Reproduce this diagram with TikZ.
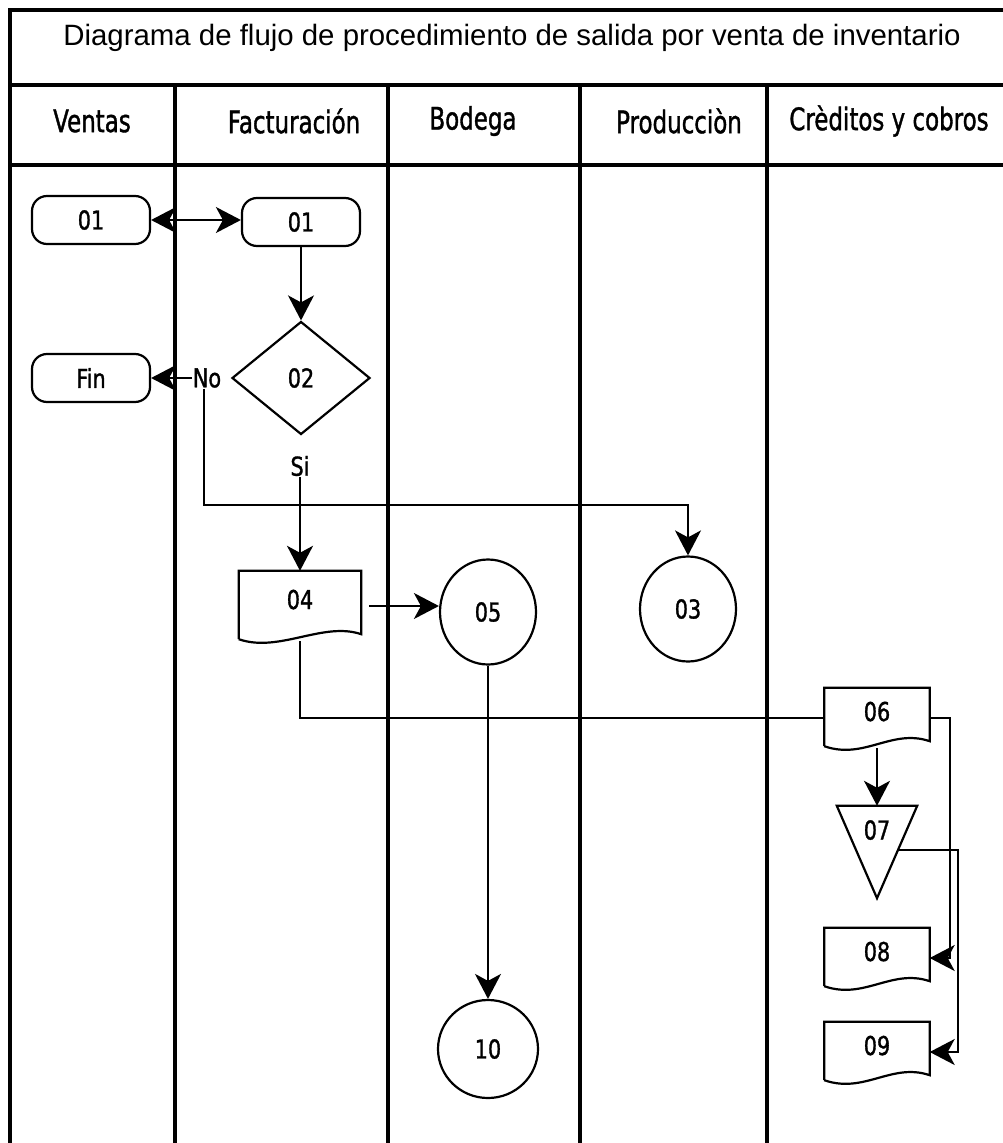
\documentclass[tikz,border=0pt]{standalone}
\usepackage{fontspec}
\setmainfont{Liberation Sans}
\newfontfamily\lanefont[FakeStretch=0.74,FakeBold=1.2]{DejaVu Sans}
\newfontfamily\numfont[FakeStretch=0.8,FakeBold=1.2]{DejaVu Sans}
\usetikzlibrary{shapes.geometric,arrows.meta,calc}
\newcommand\docoutline[1]{%
  \draw[outl] ([yshift=2pt]#1.south west) -- (#1.north west) -- (#1.north east) -- ([yshift=7pt]#1.south east)
    .. controls ([xshift=-38pt,yshift=20pt]#1.south east) and ([xshift=40pt,yshift=-12pt]#1.south west) .. ([yshift=2pt]#1.south west);}
\begin{document}
\begin{tikzpicture}[x=1pt,y=-1pt,
  frame/.style={line width=3.4pt},
  outl/.style={draw, line width=2.2pt},
  conn/.style={line width=2pt},
  >={Stealth[length=25pt,width=26pt,inset=7pt]},
  arr/.style={conn,->},
  dbl/.style={conn,<->},
  lanetxt/.style={font=\lanefont\fontsize{31}{34}\selectfont},
  num/.style={font=\numfont\fontsize{26}{30}\selectfont},
  term/.style={outl, num, rounded corners=15pt, minimum width=118pt, minimum height=48pt, inner sep=0pt},
  dec/.style={outl, num, diamond, minimum width=138pt, minimum height=113pt, inner sep=0pt},
  circ/.style={outl, num, ellipse, minimum width=96pt, minimum height=105pt, inner sep=0pt},
  docbox/.style={num, minimum width=105pt, minimum height=60pt, inner sep=0pt, text height=15pt, text depth=9pt},
  lbl/.style={num, inner sep=1pt}
]
\useasboundingbox (0,0) rectangle (1003,1143);
% frame and lanes
\draw[frame] (10,1143) -- (10,10) -- (1003,10);
\draw[frame] (10,85) -- (1003,85);
\draw[frame] (10,165) -- (1003,165);
\foreach \x in {175,388,580,767} \draw[frame] (\x,85) -- (\x,1143);
% texts of header
\node[font=\fontsize{29.4}{33}\selectfont] (title) at (512,38) {Diagrama de flujo de procedimiento de salida por venta de inventario};
\node[lanetxt] (hV) at (92,121) {Ventas};
\node[lanetxt] (hF) at (294,121) {Facturación};
\node[lanetxt] (hB) at (473,121) {Bodega};
\node[lanetxt] (hP) at (679,121) {Producciòn};
\node[lanetxt] (hC) at (889,121) {Crèditos y cobros};
% nodes
\node[term] (v01) at (91,220) {01};
\node[term] (f01) at (301,222) {01};
\node[term] (fin) at (91,378) {Fin};
\node[dec] (d02) at (301,378) {02};
\node[lbl] (no) at (207,378) {No};
\node[lbl] (si) at (300,466) {Si};
\node[docbox, minimum width=122pt, minimum height=70pt] (d04) at (300,606) {04};
\docoutline{d04}
\node[circ] (c05) at (488,612) {05};
\node[circ] (c03) at (688,609) {03};
\node[docbox] (d06) at (877,718) {06};
\docoutline{d06}
\node[num, minimum width=80pt, minimum height=92pt, inner sep=0pt, text height=15pt, text depth=40pt] (t07) at (877,852) {07};
\draw[outl] (t07.north west) -- (t07.north east) -- (t07.south) -- cycle;
\node[docbox] (d08) at (877,958) {08};
\docoutline{d08}
\node[docbox] (d09) at (877,1052) {09};
\docoutline{d09}
\node[circ, minimum width=100pt, minimum height=98pt] (c10) at (488,1049) {10};
% connectors
\coordinate (jn) at (204,505);
\coordinate (t07r) at ($(t07.north east)!0.48!(t07.south)$);
\draw[dbl] (v01.east) -- (v01.east -| f01.west);
\draw[arr] (f01.south) -- (d02.north);
\draw[arr] (no.west) -- (fin.east);
\draw[arr] (jn |- no.south) -- (jn) -| (c03.north);
\draw[arr] (si.south) -- (si.south |- d04.north);
\draw[arr] ([xshift=8pt]d04.east) -- (c05.west |- d04.east);
\draw[conn] (d04.south) |- (d06.west);
\draw[arr] (d06.south) -- (t07.north);
\draw[arr] (d06.east) -- ++(20pt,0) |- (d08.east);
\draw[arr] (t07r) -- ++(60pt,0) |- (d09.east);
\draw[arr] (c05.south) -- (c10.north);
\end{tikzpicture}
\end{document}
